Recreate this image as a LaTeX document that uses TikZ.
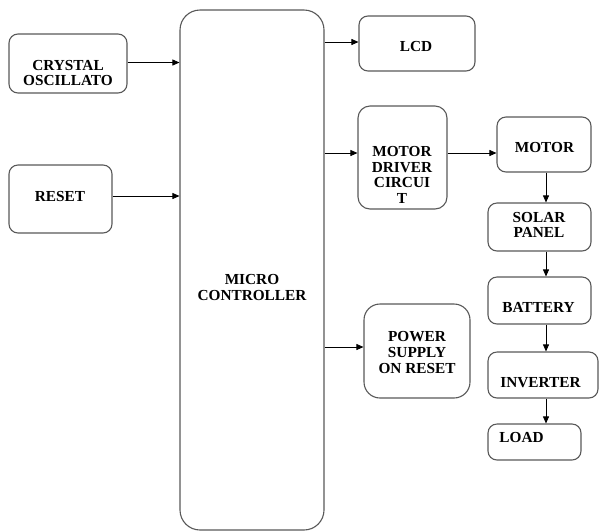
\documentclass[tikz,border=0pt]{standalone}
\usepackage{fontspec}
\setmainfont{Liberation Serif}
\usetikzlibrary{arrows.meta}
\begin{document}
\begin{tikzpicture}[x=1pt,y=-1pt,
  blk/.style={draw=black!65, line width=1.1pt, rounded corners=9pt, inner sep=0pt, fill=white},
  bigblk/.style={blk, rounded corners=20pt},
  txt/.style={font=\fontsize{15.3}{15.7}\selectfont\bfseries, align=center, inner sep=0pt, text=black},
  arr/.style={-{Triangle[length=7pt,width=6pt]}, line width=0.8pt, black}]
\useasboundingbox (0,0) rectangle (599,531);
% boxes
\node[blk, minimum width=118pt, minimum height=59pt] (cry) at (68,63.5) {};
\node[blk, minimum width=103pt, minimum height=68pt] (rst) at (60.5,199) {};
\node[bigblk, minimum width=144pt, minimum height=520pt] (mc) at (252,270) {};
\node[blk, minimum width=116pt, minimum height=55pt] (lcd) at (417,43.5) {};
\node[blk, rounded corners=12pt, minimum width=89pt, minimum height=103pt] (md) at (402.5,157.5) {};
\node[blk, minimum width=94pt, minimum height=55pt] (mot) at (544,144.5) {};
\node[blk, minimum width=103pt, minimum height=48pt] (sol) at (539.5,227) {};
\node[blk, minimum width=103pt, minimum height=47pt] (bat) at (539.5,300.5) {};
\node[blk, minimum width=110pt, minimum height=46pt] (inv) at (543,375) {};
\node[blk, minimum width=93pt, minimum height=36pt] (lod) at (534.5,442) {};
\node[blk, rounded corners=16pt, minimum width=106pt, minimum height=94pt] (ps) at (417,351) {};
% texts
\node[txt] (tcry) at (68,73) {CRYSTAL\\OSCILLATO};
\node[txt] (trst) at (60,197) {RESET};
\node[txt] (tmc) at (252,287.5) {MICRO\\CONTROLLER};
\node[txt] (tlcd) at (416,47) {LCD};
\node[txt] (tmd) at (402,175) {MOTOR\\DRIVER\\CIRCUI\\T};
\node[txt] (tmot) at (544.5,148) {MOTOR};
\node[txt] (tsol) at (539,225) {SOLAR\\PANEL};
\node[txt] (tbat) at (538.5,307) {BATTERY};
\node[txt] (tinv) at (540.5,383) {INVERTER};
\node[txt] (tlod) at (521.5,437) {LOAD};
\node[txt] (tps) at (417,352.5) {POWER\\SUPPLY\\ON RESET};
% arrows
\draw[arr] (cry.east |- 0,62.5) -- (mc.west |- 0,62.5);
\draw[arr] (rst.east |- 0,196) -- (mc.west |- 0,196);
\draw[arr] (mc.east |- 0,42) -- (lcd.west |- 0,42);
\draw[arr] (mc.east |- 0,153) -- (md.west |- 0,153);
\draw[arr] (md.east |- 0,153) -- (mot.west |- 0,153);
\draw[arr] (mc.east |- 0,347) -- (ps.west |- 0,347);
\draw[arr] (mot.south -| 546,0) -- (sol.north -| 546,0);
\draw[arr] (sol.south -| 546,0) -- (bat.north -| 546,0);
\draw[arr] (bat.south -| 546,0) -- (inv.north -| 546,0);
\draw[arr] (inv.south -| 546,0) -- (lod.north -| 546,0);
\end{tikzpicture}
\end{document}
